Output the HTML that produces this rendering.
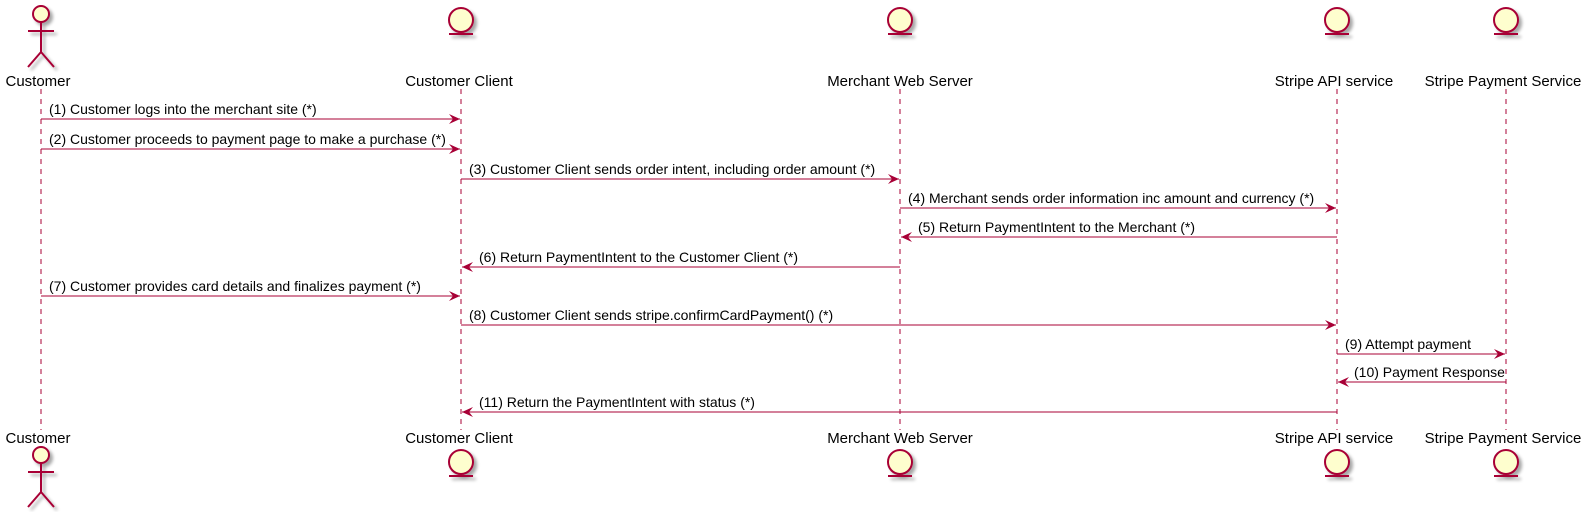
<!DOCTYPE html>
<html><head><meta charset="utf-8"><style>
html,body{margin:0;padding:0;background:#fff;}
svg{display:block;}
text{font-family:"Liberation Sans",sans-serif;fill:#000;}
</style></head><body>
<svg width="1585" height="512" viewBox="0 0 1585 512" xmlns="http://www.w3.org/2000/svg">
<defs>
<filter id="sh" x="-50%" y="-50%" width="200%" height="200%"><feGaussianBlur in="SourceAlpha" stdDeviation="1.5"/><feOffset dx="3" dy="3"/><feComponentTransfer><feFuncA type="linear" slope="0.35"/></feComponentTransfer><feMerge><feMergeNode/><feMergeNode in="SourceGraphic"/></feMerge></filter>
<marker id="ar" markerWidth="12" markerHeight="10" refX="11" refY="5" orient="auto" markerUnits="userSpaceOnUse"><path d="M0,0 L11,5 L0,10 L4,5 Z" fill="#A80036"/></marker>
</defs>
<g stroke="#A80036" stroke-width="1" stroke-dasharray="5,5">
<line x1="41" y1="89" x2="41" y2="430"/>
<line x1="461" y1="89" x2="461" y2="430"/>
<line x1="900" y1="89" x2="900" y2="430"/>
<line x1="1337" y1="89" x2="1337" y2="430"/>
<line x1="1506" y1="89" x2="1506" y2="430"/>
</g>
<g fill="#FEFECE" stroke="#A80036" stroke-width="2" filter="url(#sh)">
<circle cx="41" cy="14" r="8"/>
<path d="M41,22 V52 M28,31 H54 M41,52 L28,67 M41,52 L54,67" fill="none"/>
<circle cx="41" cy="455" r="8"/>
<path d="M41,463 V492 M28,472 H54 M41,492 L28,507 M41,492 L54,507" fill="none"/>
<g>
<circle cx="461" cy="20" r="12"/><line x1="449" y1="34" x2="473" y2="34"/>
<circle cx="900" cy="20" r="12"/><line x1="888" y1="34" x2="912" y2="34"/>
<circle cx="1337" cy="20" r="12"/><line x1="1325" y1="34" x2="1349" y2="34"/>
<circle cx="1506" cy="20" r="12"/><line x1="1494" y1="34" x2="1518" y2="34"/>
<circle cx="461" cy="462" r="12"/><line x1="449" y1="476" x2="473" y2="476"/>
<circle cx="900" cy="462" r="12"/><line x1="888" y1="476" x2="912" y2="476"/>
<circle cx="1337" cy="462" r="12"/><line x1="1325" y1="476" x2="1349" y2="476"/>
<circle cx="1506" cy="462" r="12"/><line x1="1494" y1="476" x2="1518" y2="476"/>
</g>
</g>
<g font-size="15" text-anchor="middle">
<text x="38" y="86">Customer</text>
<text x="459" y="86">Customer Client</text>
<text x="900" y="86">Merchant Web Server</text>
<text x="1334" y="86">Stripe API service</text>
<text x="1503" y="86">Stripe Payment Service</text>
<text x="38" y="443">Customer</text>
<text x="459" y="443">Customer Client</text>
<text x="900" y="443">Merchant Web Server</text>
<text x="1334" y="443">Stripe API service</text>
<text x="1503" y="443">Stripe Payment Service</text>
</g>
<g stroke="#A80036" stroke-width="1" marker-end="url(#ar)">
<line x1="41" y1="119" x2="460" y2="119"/>
<line x1="41" y1="149" x2="460" y2="149"/>
<line x1="461" y1="179" x2="899" y2="179"/>
<line x1="900" y1="208" x2="1336" y2="208"/>
<line x1="1337" y1="237" x2="901" y2="237"/>
<line x1="900" y1="267" x2="462" y2="267"/>
<line x1="41" y1="296" x2="460" y2="296"/>
<line x1="461" y1="325" x2="1336" y2="325"/>
<line x1="1337" y1="354" x2="1505" y2="354"/>
<line x1="1506" y1="382" x2="1338" y2="382"/>
<line x1="1337" y1="412" x2="462" y2="412"/>
</g>
<g font-size="14">
<text x="49" y="114">(1) Customer logs into the merchant site (*)</text>
<text x="49" y="144">(2) Customer proceeds to payment page to make a purchase (*)</text>
<text x="469" y="174">(3) Customer Client sends order intent, including order amount (*)</text>
<text x="908" y="203">(4) Merchant sends order information inc amount and currency (*)</text>
<text x="918" y="232">(5) Return PaymentIntent to the Merchant (*)</text>
<text x="479" y="262">(6) Return PaymentIntent to the Customer Client (*)</text>
<text x="49" y="291">(7) Customer provides card details and finalizes payment (*)</text>
<text x="469" y="320">(8) Customer Client sends stripe.confirmCardPayment() (*)</text>
<text x="1345" y="349">(9) Attempt payment</text>
<text x="1354" y="377">(10) Payment Response</text>
<text x="479" y="407">(11) Return the PaymentIntent with status (*)</text>
</g>
</svg>
</body></html>
